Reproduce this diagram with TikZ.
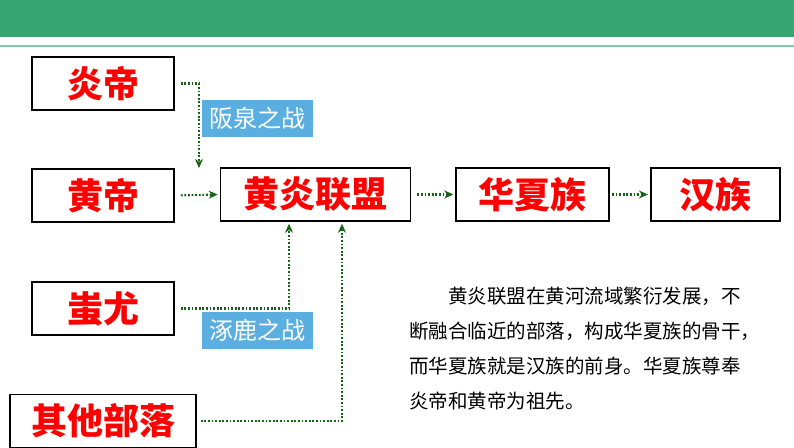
\documentclass[tikz,border=0pt]{standalone}
\usepackage{fontspec}
\setmainfont{Noto Sans CJK SC}[BoldFont={Noto Sans CJK SC Black}]
\usepackage{xcolor}
\usepackage{tikz}
\usetikzlibrary{arrows.meta,positioning}

\definecolor{bargreen}{RGB}{56,166,115}
\definecolor{linegreen}{RGB}{125,204,170}
\definecolor{linkgreen}{RGB}{20,100,20}
\definecolor{battleblue}{RGB}{90,175,224}

\begin{document}
\begin{tikzpicture}[
x=1pt, y=-1pt,
namebox/.style={draw, line width=1.6pt, align=center, minimum height=53pt, minimum width=142pt, inner sep=0pt, text=red, font=\fontsize{36}{40}\selectfont\bfseries},
battle/.style={fill=battleblue, text=white, minimum height=37pt, minimum width=111pt, inner sep=0pt, font=\fontsize{24}{26}\selectfont},
link/.style={-{Stealth[length=9pt,width=8pt]}, linkgreen, line width=2.2pt, dash pattern=on 1.8pt off 1.8pt}
]
\useasboundingbox (0,0) rectangle (794,447);

% header
\fill[bargreen] (0,0) rectangle (794,37);
\draw[linegreen, line width=1.5pt] (0,46) -- (794,46);

\node[namebox] (yandi) at (103,83.5) {炎帝};
\node[namebox] (huangdi) at (103,195.5) {黄帝};
\node[namebox] (chiyou) at (103,308.5) {蚩尤};
\node[namebox, minimum width=186pt] (qita) at (103,421) {其他部落};

\node[namebox, minimum width=190pt] (lianmeng) at (315.5,194.5) {黄炎联盟};
\node[namebox, minimum width=153pt, right=44pt of lianmeng] (huaxia) {华夏族};
\node[namebox, minimum width=129pt, right=40pt of huaxia] (hanzu) {汉族};

\node[battle] (banquan) at (257.5,118.5) {阪泉之战};
\node[battle] (zhuolu) at (257.5,330.5) {涿鹿之战};

\coordinate (meet) at (199,168);

\draw[link, shorten <=6pt] (yandi.east) -| (meet);
\draw[link, shorten <=6pt, shorten >=2pt] (huangdi.east) -- (lianmeng.west);
\draw[link, shorten <=6pt, shorten >=2pt] (chiyou.east) -| ([xshift=-26.5pt]lianmeng.south);
\draw[link, shorten <=4pt, shorten >=2pt] (qita.east) -| ([xshift=26.5pt]lianmeng.south);
\draw[link, shorten <=6pt, shorten >=2pt] (lianmeng) -- (huaxia);
\draw[link, shorten <=2pt, shorten >=2pt] (huaxia) -- (hanzu);

\node[anchor=north west, align=left, inner sep=0pt, font=\fontsize{19.5}{35}\selectfont] (note) at (409,287)
{\hspace*{39pt}黄炎联盟在黄河流域繁衍发展，不\\
断融合临近的部落，构成华夏族的骨干，\\
而华夏族就是汉族的前身。华夏族尊奉\\
炎帝和黄帝为祖先。};

\end{tikzpicture}
\end{document}
